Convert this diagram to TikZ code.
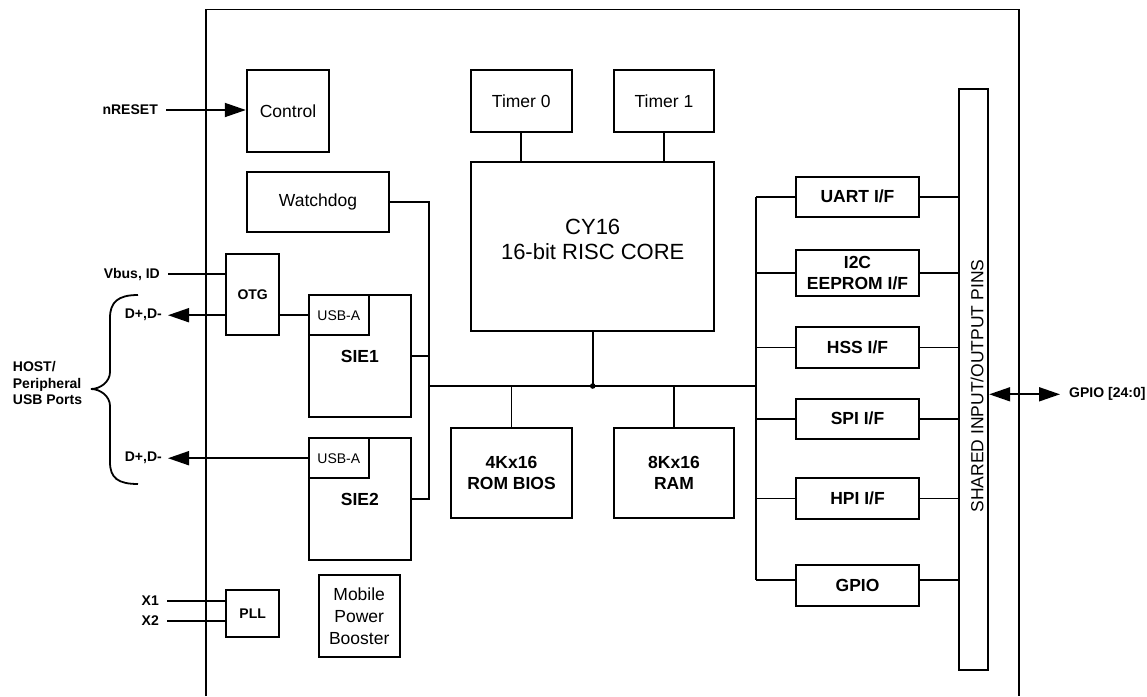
\documentclass[tikz,border=0pt]{standalone}
\usepackage{fontspec}
\setmainfont{Liberation Sans}
\usetikzlibrary{arrows.meta}
\begin{document}
\begin{tikzpicture}[x=1pt,y=-1pt,
  blk/.style={draw,line width=1.8pt,inner sep=0pt,align=center,font=\fontsize{17.5}{21.5}\selectfont},
  bblk/.style={blk,font=\fontsize{17.5}{21.5}\selectfont\bfseries},
  sblk/.style={blk,font=\fontsize{14}{17}\selectfont\bfseries},
  ublk/.style={blk,font=\fontsize{14}{17}\selectfont},
  wire/.style={line width=1.8pt},
  tipr/.style={wire,-{Triangle[length=21pt,width=14pt]}},
  tipb/.style={wire,{Triangle[length=21pt,width=14pt]}-{Triangle[length=21pt,width=14pt]}},
  lbl/.style={inner sep=0pt,font=\fontsize{14}{16.2}\selectfont\bfseries,align=left},
]
\useasboundingbox (0,0) rectangle (1147,696);

% chip outline
\draw[wire] (206,696) -- (206,9.5) -- (1018.7,9.5) -- (1018.7,696);

% blocks
\node[blk,minimum width=82.6pt,minimum height=82.6pt] (ctrl) at (288,111) {Control};
\node[blk,minimum width=142.6pt,minimum height=60.3pt] (wd) at (318,202.2) {Watchdog};
\node[blk,minimum width=100.7pt,minimum height=62.6pt] (t0) at (521.3,101) {Timer 0};
\node[blk,minimum width=100.7pt,minimum height=62.6pt] (t1) at (664,101) {Timer 1};
\node[blk,minimum width=243.3pt,minimum height=168.7pt] (cpu) at (592.7,246.7) {};
\node[inner sep=0pt,align=center,font=\fontsize{22}{25.6}\selectfont] (cpulbl) at (592.7,239.5) {CY16\\16-bit RISC CORE};
\node[bblk,minimum width=120.4pt,minimum height=90.6pt] (rom) at (511.5,473) {4Kx16\\ROM BIOS};
\node[bblk,minimum width=120.4pt,minimum height=90.6pt] (ram) at (674,473) {8Kx16\\RAM};

\node[sblk,minimum width=52.7pt,minimum height=81pt] (otg) at (252.7,294.8) {OTG};
\node[bblk,minimum width=102.3pt,minimum height=122.3pt] (sie1) at (359.8,356.2) {SIE1};
\node[ublk,minimum width=60.3pt,minimum height=40.3pt] (usba1) at (338.8,315.2) {USB-A};
\node[bblk,minimum width=102.3pt,minimum height=122.3pt] (sie2) at (359.8,499.2) {SIE2};
\node[ublk,minimum width=60.3pt,minimum height=40.3pt] (usba2) at (338.8,458.2) {USB-A};
\node[sblk,minimum width=52.7pt,minimum height=46.7pt] (pll) at (252.7,613.7) {PLL};
\node[blk,minimum width=81pt,minimum height=82.6pt,font=\fontsize{17.5}{22}\selectfont] (mpb) at (359.2,616) {Mobile\\Power\\Booster};

\node[bblk,minimum width=123pt,minimum height=40.3pt] (uart) at (857.5,196.8) {UART I/F};
\node[bblk,minimum width=123pt,minimum height=45.7pt] (i2c) at (857.5,273.2) {I2C\\EEPROM I/F};
\node[bblk,minimum width=123pt,minimum height=40.4pt] (hss) at (857.5,347.5) {HSS I/F};
\node[bblk,minimum width=123pt,minimum height=40pt] (spi) at (857.5,418.7) {SPI I/F};
\node[bblk,minimum width=123pt,minimum height=40.4pt] (hpi) at (857.5,498.5) {HPI I/F};
\node[bblk,minimum width=123pt,minimum height=40.7pt] (gpio) at (857.5,585.7) {GPIO};

\node[blk,minimum width=29pt,minimum height=581.3pt] (bar) at (973.8,379.3) {};
\node[rotate=90,inner sep=0pt,font=\fontsize{17.5}{20}\selectfont] (pinlbl) at (977,386) {SHARED INPUT/OUTPUT PINS};

% external labels
\node[lbl,anchor=east] (nrst) at (158,110) {nRESET};
\node[lbl,anchor=east] (vbus) at (160,274.3) {Vbus, ID};
\node[lbl,anchor=east] (dp1) at (162,315.2) {D+,D-};
\node[lbl,anchor=east] (dp2) at (162,458.2) {D+,D-};
\node[lbl,anchor=west] (host) at (12.7,383) {HOST/\\Peripheral\\USB Ports};
\node[lbl,anchor=east] (x1) at (159,601) {X1};
\node[lbl,anchor=east] (x2) at (159,621) {X2};
\node[lbl,anchor=west] (gpiol) at (1069,394.3) {GPIO [24:0]};

% coordinates for buses
\coordinate (vl) at (429,386);
\coordinate (vr) at (756,386);
\coordinate (bus) at (cpu.south |- vl);

% connectors
\draw[tipr] ([xshift=8pt]nrst.east) -- (nrst.east -| ctrl.west);
\draw[wire] ([xshift=8pt]vbus.east) -- (vbus.east -| otg.west);
\draw[tipr] (dp1.east -| otg.west) -- ([xshift=6pt]dp1.east);
\draw[wire] (otg.east |- usba1.west) -- (usba1.west);
\draw[tipr] (usba2.west) -- ([xshift=6pt]dp2.east);
\draw[wire] ([xshift=8pt]x1.east) -- (x1.east -| pll.west);
\draw[wire] ([xshift=8pt]x2.east) -- (x2.east -| pll.west);

\draw[wire] (wd.east) -- (wd.east -| vl) -- (sie2.east -| vl) -- (sie2.east);
\draw[wire] (sie1.east) -- (sie1.east -| vl);
\draw[wire] (vl) -- (vr);
\draw[wire] (cpu.south) -- (bus);
\fill (bus) circle (2.8pt);
\draw[wire] (t0.south) -- (t0.south |- cpu.north);
\draw[wire] (t1.south) -- (t1.south |- cpu.north);
\draw[wire] (rom.north |- vl) -- (rom.north);
\draw[wire] (ram.north |- vl) -- (ram.north);

\coordinate (gpw) at ([yshift=6pt]gpio.west);
\coordinate (gpe) at ([yshift=6pt]gpio.east);
\draw[wire] (uart.west -| vr) -- (gpw -| vr);
\foreach \n in {uart,i2c,hss,spi,hpi} {
  \draw[wire] (\n.west -| vr) -- (\n.west);
  \draw[wire] (\n.east) -- (\n.east -| bar.west);
}
\draw[wire] (gpw -| vr) -- (gpw);
\draw[wire] (gpe) -- (gpe -| bar.west);

\draw[tipb] (bar.east |- gpiol.west) -- ([xshift=-9pt]gpiol.west);

% brace
\draw[wire] (138,295) .. controls (118,295) and (110,302) .. (110,318) -- (110,372)
  .. controls (110,382) and (100,389) .. (91,389)
  .. controls (100,389) and (110,396) .. (110,406) -- (110,462)
  .. controls (110,478) and (118,484) .. (138,484);
\end{tikzpicture}
\end{document}
